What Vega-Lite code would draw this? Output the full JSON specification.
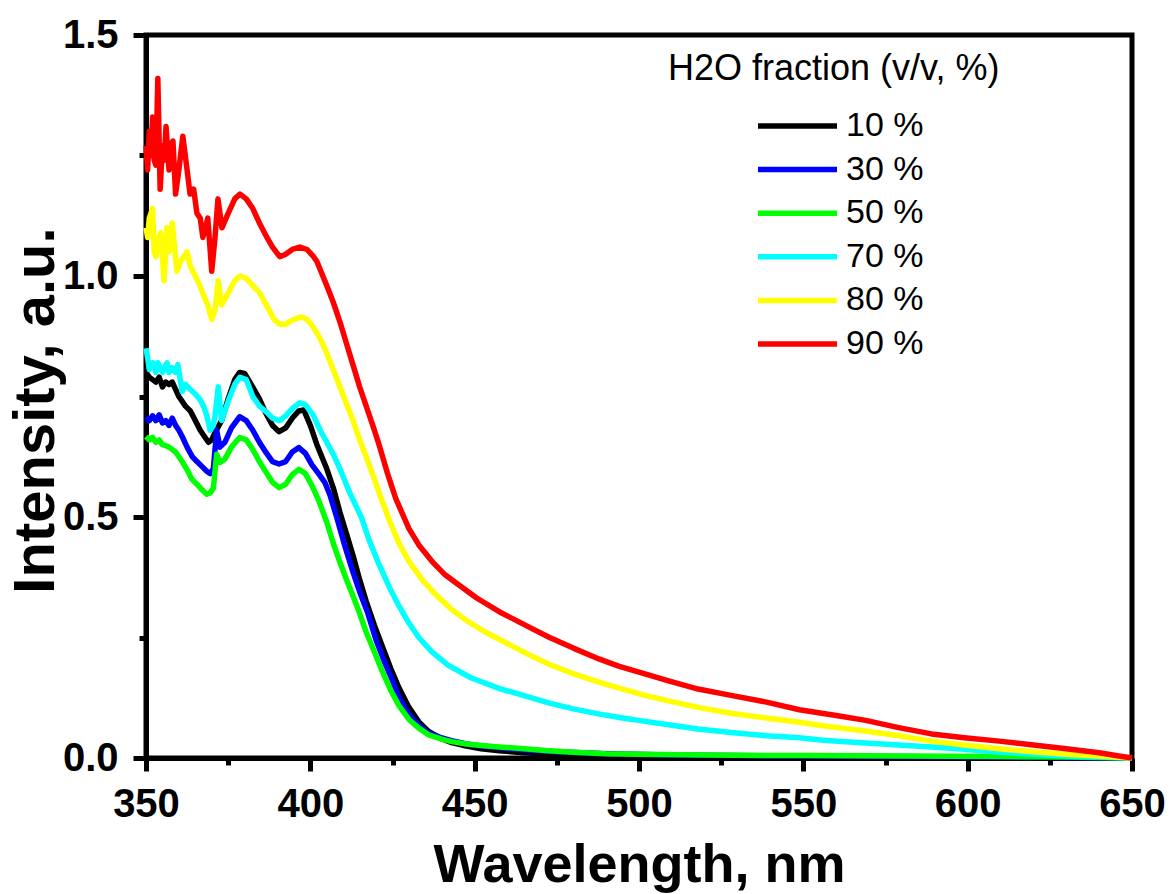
{
  "$schema": "https://vega.github.io/schema/vega-lite/v6.json",
  "width": 986,
  "height": 723,
  "autosize": {"type": "none"},
  "padding": {"left": 146, "top": 35, "right": 39, "bottom": 136},
  "background": "white",
  "config": {"view": {"stroke": "black", "strokeWidth": 5}, "font": "Liberation Sans"},
  "data": {"values": [
{"s":"10 %","w":350,"v":0.80},{"s":"10 %","w":351,"v":0.79},{"s":"10 %","w":352,"v":0.785},{"s":"10 %","w":353,"v":0.78},{"s":"10 %","w":354,"v":0.79},{"s":"10 %","w":355,"v":0.77},{"s":"10 %","w":356,"v":0.78},{"s":"10 %","w":357,"v":0.775},{"s":"10 %","w":358,"v":0.78},{"s":"10 %","w":359,"v":0.765},{"s":"10 %","w":360,"v":0.75},{"s":"10 %","w":362,"v":0.73},{"s":"10 %","w":363.5,"v":0.72},{"s":"10 %","w":365,"v":0.70},{"s":"10 %","w":366.5,"v":0.68},{"s":"10 %","w":368,"v":0.665},{"s":"10 %","w":369,"v":0.655},{"s":"10 %","w":370,"v":0.66},{"s":"10 %","w":371,"v":0.675},{"s":"10 %","w":373,"v":0.70},{"s":"10 %","w":375,"v":0.745},{"s":"10 %","w":377,"v":0.785},{"s":"10 %","w":378.5,"v":0.80},{"s":"10 %","w":380,"v":0.798},{"s":"10 %","w":382,"v":0.775},{"s":"10 %","w":384.5,"v":0.745},{"s":"10 %","w":386.5,"v":0.715},{"s":"10 %","w":388.5,"v":0.69},{"s":"10 %","w":390.5,"v":0.677},{"s":"10 %","w":392.5,"v":0.685},{"s":"10 %","w":394.5,"v":0.705},{"s":"10 %","w":396.5,"v":0.72},{"s":"10 %","w":398,"v":0.722},{"s":"10 %","w":400,"v":0.69},{"s":"10 %","w":402,"v":0.65},{"s":"10 %","w":405,"v":0.60},{"s":"10 %","w":407,"v":0.56},{"s":"10 %","w":409,"v":0.51},{"s":"10 %","w":411,"v":0.465},{"s":"10 %","w":413,"v":0.42},{"s":"10 %","w":415,"v":0.37},{"s":"10 %","w":417,"v":0.325},{"s":"10 %","w":419.5,"v":0.275},{"s":"10 %","w":422,"v":0.23},{"s":"10 %","w":424.5,"v":0.185},{"s":"10 %","w":427,"v":0.145},{"s":"10 %","w":430,"v":0.105},{"s":"10 %","w":433,"v":0.075},{"s":"10 %","w":436,"v":0.055},{"s":"10 %","w":439.5,"v":0.041},{"s":"10 %","w":443,"v":0.032},{"s":"10 %","w":447.5,"v":0.025},{"s":"10 %","w":452,"v":0.019},{"s":"10 %","w":457.5,"v":0.015},{"s":"10 %","w":465,"v":0.011},{"s":"10 %","w":475,"v":0.008},{"s":"10 %","w":490,"v":0.005},{"s":"10 %","w":510,"v":0.003},{"s":"10 %","w":550,"v":0.002},{"s":"10 %","w":600,"v":0.001},{"s":"10 %","w":650,"v":0.0},
{"s":"30 %","w":350,"v":0.707},{"s":"30 %","w":351,"v":0.70},{"s":"30 %","w":352,"v":0.71},{"s":"30 %","w":353,"v":0.70},{"s":"30 %","w":354,"v":0.712},{"s":"30 %","w":355,"v":0.695},{"s":"30 %","w":356,"v":0.70},{"s":"30 %","w":357,"v":0.69},{"s":"30 %","w":358,"v":0.705},{"s":"30 %","w":359,"v":0.69},{"s":"30 %","w":360,"v":0.68},{"s":"30 %","w":361,"v":0.667},{"s":"30 %","w":362.5,"v":0.645},{"s":"30 %","w":364,"v":0.626},{"s":"30 %","w":365.5,"v":0.615},{"s":"30 %","w":367,"v":0.605},{"s":"30 %","w":368.5,"v":0.595},{"s":"30 %","w":369.5,"v":0.59},{"s":"30 %","w":370.5,"v":0.60},{"s":"30 %","w":371.5,"v":0.68},{"s":"30 %","w":372.5,"v":0.645},{"s":"30 %","w":374,"v":0.655},{"s":"30 %","w":376,"v":0.685},{"s":"30 %","w":378.5,"v":0.708},{"s":"30 %","w":380.5,"v":0.70},{"s":"30 %","w":382.5,"v":0.68},{"s":"30 %","w":384.5,"v":0.655},{"s":"30 %","w":386.5,"v":0.634},{"s":"30 %","w":388.5,"v":0.615},{"s":"30 %","w":390.5,"v":0.61},{"s":"30 %","w":392.5,"v":0.615},{"s":"30 %","w":394.5,"v":0.635},{"s":"30 %","w":396.5,"v":0.644},{"s":"30 %","w":398.5,"v":0.632},{"s":"30 %","w":400.5,"v":0.608},{"s":"30 %","w":402.5,"v":0.59},{"s":"30 %","w":404.4,"v":0.572},{"s":"30 %","w":406,"v":0.545},{"s":"30 %","w":408,"v":0.50},{"s":"30 %","w":410.5,"v":0.44},{"s":"30 %","w":413,"v":0.385},{"s":"30 %","w":415,"v":0.345},{"s":"30 %","w":417.5,"v":0.30},{"s":"30 %","w":420,"v":0.245},{"s":"30 %","w":422.5,"v":0.20},{"s":"30 %","w":424.8,"v":0.164},{"s":"30 %","w":427,"v":0.125},{"s":"30 %","w":430,"v":0.09},{"s":"30 %","w":433.3,"v":0.066},{"s":"30 %","w":436,"v":0.052},{"s":"30 %","w":439.5,"v":0.043},{"s":"30 %","w":443,"v":0.036},{"s":"30 %","w":447.5,"v":0.029},{"s":"30 %","w":452,"v":0.025},{"s":"30 %","w":457.5,"v":0.021},{"s":"30 %","w":465,"v":0.017},{"s":"30 %","w":475,"v":0.013},{"s":"30 %","w":490,"v":0.009},{"s":"30 %","w":510,"v":0.006},{"s":"30 %","w":550,"v":0.004},{"s":"30 %","w":600,"v":0.002},{"s":"30 %","w":650,"v":0.0},
{"s":"50 %","w":350,"v":0.667},{"s":"50 %","w":351,"v":0.66},{"s":"50 %","w":352,"v":0.665},{"s":"50 %","w":353,"v":0.655},{"s":"50 %","w":354,"v":0.66},{"s":"50 %","w":355,"v":0.65},{"s":"50 %","w":356,"v":0.648},{"s":"50 %","w":357,"v":0.645},{"s":"50 %","w":358,"v":0.64},{"s":"50 %","w":359,"v":0.635},{"s":"50 %","w":360,"v":0.625},{"s":"50 %","w":361,"v":0.615},{"s":"50 %","w":362.5,"v":0.598},{"s":"50 %","w":364,"v":0.578},{"s":"50 %","w":365.5,"v":0.568},{"s":"50 %","w":367,"v":0.557},{"s":"50 %","w":368.5,"v":0.547},{"s":"50 %","w":369.5,"v":0.55},{"s":"50 %","w":370.5,"v":0.56},{"s":"50 %","w":371.5,"v":0.63},{"s":"50 %","w":372.5,"v":0.613},{"s":"50 %","w":374,"v":0.62},{"s":"50 %","w":376,"v":0.645},{"s":"50 %","w":378.5,"v":0.665},{"s":"50 %","w":380.5,"v":0.66},{"s":"50 %","w":382.5,"v":0.64},{"s":"50 %","w":384.5,"v":0.615},{"s":"50 %","w":386.5,"v":0.593},{"s":"50 %","w":388.5,"v":0.572},{"s":"50 %","w":390.5,"v":0.561},{"s":"50 %","w":392.5,"v":0.568},{"s":"50 %","w":394.5,"v":0.588},{"s":"50 %","w":396.5,"v":0.599},{"s":"50 %","w":398.5,"v":0.59},{"s":"50 %","w":400.5,"v":0.565},{"s":"50 %","w":402.5,"v":0.535},{"s":"50 %","w":405,"v":0.489},{"s":"50 %","w":407,"v":0.445},{"s":"50 %","w":409,"v":0.406},{"s":"50 %","w":411,"v":0.37},{"s":"50 %","w":413,"v":0.336},{"s":"50 %","w":415,"v":0.30},{"s":"50 %","w":417,"v":0.261},{"s":"50 %","w":419.5,"v":0.22},{"s":"50 %","w":422,"v":0.178},{"s":"50 %","w":424.5,"v":0.14},{"s":"50 %","w":427,"v":0.108},{"s":"50 %","w":430,"v":0.08},{"s":"50 %","w":433,"v":0.062},{"s":"50 %","w":436,"v":0.048},{"s":"50 %","w":440,"v":0.039},{"s":"50 %","w":443,"v":0.034},{"s":"50 %","w":447.5,"v":0.029},{"s":"50 %","w":452,"v":0.026},{"s":"50 %","w":457.5,"v":0.023},{"s":"50 %","w":465,"v":0.019},{"s":"50 %","w":472.5,"v":0.015},{"s":"50 %","w":480,"v":0.012},{"s":"50 %","w":490,"v":0.009},{"s":"50 %","w":500,"v":0.008},{"s":"50 %","w":520,"v":0.006},{"s":"50 %","w":550,"v":0.005},{"s":"50 %","w":580,"v":0.004},{"s":"50 %","w":610,"v":0.003},{"s":"50 %","w":630,"v":0.002},{"s":"50 %","w":650,"v":0.0},
{"s":"70 %","w":350,"v":0.85},{"s":"70 %","w":350.5,"v":0.83},{"s":"70 %","w":351,"v":0.806},{"s":"70 %","w":352,"v":0.82},{"s":"70 %","w":353,"v":0.80},{"s":"70 %","w":353.6,"v":0.82},{"s":"70 %","w":355,"v":0.80},{"s":"70 %","w":356.4,"v":0.82},{"s":"70 %","w":357,"v":0.80},{"s":"70 %","w":358,"v":0.81},{"s":"70 %","w":359,"v":0.80},{"s":"70 %","w":359.7,"v":0.816},{"s":"70 %","w":361,"v":0.76},{"s":"70 %","w":362,"v":0.775},{"s":"70 %","w":363.4,"v":0.765},{"s":"70 %","w":365,"v":0.755},{"s":"70 %","w":366.4,"v":0.744},{"s":"70 %","w":367.5,"v":0.73},{"s":"70 %","w":368.5,"v":0.71},{"s":"70 %","w":369.5,"v":0.68},{"s":"70 %","w":370.5,"v":0.69},{"s":"70 %","w":371,"v":0.71},{"s":"70 %","w":372,"v":0.77},{"s":"70 %","w":373,"v":0.70},{"s":"70 %","w":375,"v":0.74},{"s":"70 %","w":377,"v":0.775},{"s":"70 %","w":378.6,"v":0.79},{"s":"70 %","w":380.5,"v":0.785},{"s":"70 %","w":382.5,"v":0.75},{"s":"70 %","w":384.5,"v":0.73},{"s":"70 %","w":386.8,"v":0.717},{"s":"70 %","w":388.5,"v":0.705},{"s":"70 %","w":390.7,"v":0.70},{"s":"70 %","w":392.5,"v":0.71},{"s":"70 %","w":394.5,"v":0.725},{"s":"70 %","w":396.8,"v":0.737},{"s":"70 %","w":398.5,"v":0.733},{"s":"70 %","w":401,"v":0.71},{"s":"70 %","w":403,"v":0.68},{"s":"70 %","w":405,"v":0.655},{"s":"70 %","w":407,"v":0.63},{"s":"70 %","w":409,"v":0.60},{"s":"70 %","w":412,"v":0.55},{"s":"70 %","w":415.5,"v":0.50},{"s":"70 %","w":418,"v":0.45},{"s":"70 %","w":421,"v":0.40},{"s":"70 %","w":424,"v":0.355},{"s":"70 %","w":427,"v":0.315},{"s":"70 %","w":430,"v":0.28},{"s":"70 %","w":433,"v":0.25},{"s":"70 %","w":437,"v":0.22},{"s":"70 %","w":442,"v":0.192},{"s":"70 %","w":449,"v":0.166},{"s":"70 %","w":457.6,"v":0.144},{"s":"70 %","w":465.8,"v":0.128},{"s":"70 %","w":472.8,"v":0.114},{"s":"70 %","w":480,"v":0.102},{"s":"70 %","w":488,"v":0.091},{"s":"70 %","w":495,"v":0.083},{"s":"70 %","w":503,"v":0.075},{"s":"70 %","w":510,"v":0.068},{"s":"70 %","w":518,"v":0.06},{"s":"70 %","w":528,"v":0.053},{"s":"70 %","w":538.8,"v":0.046},{"s":"70 %","w":548.8,"v":0.042},{"s":"70 %","w":556,"v":0.037},{"s":"70 %","w":564,"v":0.033},{"s":"70 %","w":569,"v":0.031},{"s":"70 %","w":579,"v":0.027},{"s":"70 %","w":589,"v":0.023},{"s":"70 %","w":599,"v":0.018},{"s":"70 %","w":609.6,"v":0.012},{"s":"70 %","w":620,"v":0.008},{"s":"70 %","w":630,"v":0.004},{"s":"70 %","w":640,"v":0.002},{"s":"70 %","w":650,"v":0.0},
{"s":"80 %","w":350,"v":1.10},{"s":"80 %","w":350.5,"v":1.08},{"s":"80 %","w":351,"v":1.12},{"s":"80 %","w":352,"v":1.14},{"s":"80 %","w":352.5,"v":1.05},{"s":"80 %","w":353,"v":1.04},{"s":"80 %","w":354,"v":1.08},{"s":"80 %","w":354.5,"v":1.09},{"s":"80 %","w":355.5,"v":0.99},{"s":"80 %","w":356.4,"v":1.10},{"s":"80 %","w":357,"v":1.05},{"s":"80 %","w":357.5,"v":1.07},{"s":"80 %","w":358,"v":1.11},{"s":"80 %","w":359.4,"v":1.01},{"s":"80 %","w":360.5,"v":1.03},{"s":"80 %","w":362.5,"v":1.05},{"s":"80 %","w":363.5,"v":1.02},{"s":"80 %","w":365,"v":1.00},{"s":"80 %","w":366.4,"v":0.98},{"s":"80 %","w":367.5,"v":0.96},{"s":"80 %","w":368.8,"v":0.94},{"s":"80 %","w":370,"v":0.91},{"s":"80 %","w":371,"v":0.93},{"s":"80 %","w":372,"v":0.99},{"s":"80 %","w":373,"v":0.94},{"s":"80 %","w":375,"v":0.965},{"s":"80 %","w":377,"v":0.99},{"s":"80 %","w":378.6,"v":1.00},{"s":"80 %","w":380.5,"v":0.995},{"s":"80 %","w":382.5,"v":0.98},{"s":"80 %","w":384.6,"v":0.965},{"s":"80 %","w":387,"v":0.935},{"s":"80 %","w":389,"v":0.91},{"s":"80 %","w":390.7,"v":0.90},{"s":"80 %","w":392.5,"v":0.90},{"s":"80 %","w":395,"v":0.91},{"s":"80 %","w":397.4,"v":0.915},{"s":"80 %","w":399,"v":0.91},{"s":"80 %","w":400.8,"v":0.895},{"s":"80 %","w":403,"v":0.87},{"s":"80 %","w":405,"v":0.84},{"s":"80 %","w":407,"v":0.805},{"s":"80 %","w":409,"v":0.77},{"s":"80 %","w":411,"v":0.735},{"s":"80 %","w":413,"v":0.70},{"s":"80 %","w":415,"v":0.66},{"s":"80 %","w":417,"v":0.625},{"s":"80 %","w":419.5,"v":0.578},{"s":"80 %","w":422,"v":0.53},{"s":"80 %","w":424.5,"v":0.485},{"s":"80 %","w":427,"v":0.445},{"s":"80 %","w":430,"v":0.408},{"s":"80 %","w":434,"v":0.37},{"s":"80 %","w":438,"v":0.34},{"s":"80 %","w":443,"v":0.308},{"s":"80 %","w":447.6,"v":0.285},{"s":"80 %","w":453,"v":0.262},{"s":"80 %","w":461.5,"v":0.232},{"s":"80 %","w":466,"v":0.216},{"s":"80 %","w":472.8,"v":0.194},{"s":"80 %","w":480,"v":0.175},{"s":"80 %","w":488,"v":0.157},{"s":"80 %","w":495,"v":0.143},{"s":"80 %","w":503,"v":0.128},{"s":"80 %","w":510,"v":0.117},{"s":"80 %","w":518,"v":0.105},{"s":"80 %","w":528,"v":0.093},{"s":"80 %","w":538.8,"v":0.083},{"s":"80 %","w":548.8,"v":0.074},{"s":"80 %","w":556,"v":0.067},{"s":"80 %","w":564,"v":0.06},{"s":"80 %","w":569,"v":0.056},{"s":"80 %","w":579,"v":0.046},{"s":"80 %","w":589,"v":0.035},{"s":"80 %","w":599,"v":0.027},{"s":"80 %","w":609.6,"v":0.019},{"s":"80 %","w":620,"v":0.013},{"s":"80 %","w":630,"v":0.008},{"s":"80 %","w":640,"v":0.004},{"s":"80 %","w":650,"v":0.0},
{"s":"90 %","w":350,"v":1.27},{"s":"90 %","w":350.5,"v":1.22},{"s":"90 %","w":351,"v":1.30},{"s":"90 %","w":351.5,"v":1.25},{"s":"90 %","w":352,"v":1.33},{"s":"90 %","w":352.5,"v":1.24},{"s":"90 %","w":353,"v":1.23},{"s":"90 %","w":353.6,"v":1.41},{"s":"90 %","w":354.3,"v":1.18},{"s":"90 %","w":355,"v":1.27},{"s":"90 %","w":355.5,"v":1.24},{"s":"90 %","w":356.1,"v":1.31},{"s":"90 %","w":357,"v":1.22},{"s":"90 %","w":357.5,"v":1.27},{"s":"90 %","w":358.2,"v":1.28},{"s":"90 %","w":359,"v":1.17},{"s":"90 %","w":360,"v":1.22},{"s":"90 %","w":361.2,"v":1.29},{"s":"90 %","w":362.5,"v":1.22},{"s":"90 %","w":363.4,"v":1.17},{"s":"90 %","w":364.5,"v":1.18},{"s":"90 %","w":365.5,"v":1.13},{"s":"90 %","w":366.5,"v":1.12},{"s":"90 %","w":367.3,"v":1.08},{"s":"90 %","w":368.8,"v":1.12},{"s":"90 %","w":370,"v":1.01},{"s":"90 %","w":371,"v":1.08},{"s":"90 %","w":371.9,"v":1.16},{"s":"90 %","w":373.1,"v":1.10},{"s":"90 %","w":375,"v":1.13},{"s":"90 %","w":377,"v":1.16},{"s":"90 %","w":378.6,"v":1.17},{"s":"90 %","w":380.5,"v":1.16},{"s":"90 %","w":382.5,"v":1.14},{"s":"90 %","w":384.5,"v":1.11},{"s":"90 %","w":386.8,"v":1.08},{"s":"90 %","w":388.5,"v":1.06},{"s":"90 %","w":390.7,"v":1.04},{"s":"90 %","w":392.5,"v":1.045},{"s":"90 %","w":394.5,"v":1.055},{"s":"90 %","w":396.8,"v":1.06},{"s":"90 %","w":399,"v":1.055},{"s":"90 %","w":401,"v":1.04},{"s":"90 %","w":402,"v":1.03},{"s":"90 %","w":405,"v":0.98},{"s":"90 %","w":407,"v":0.945},{"s":"90 %","w":409,"v":0.905},{"s":"90 %","w":411,"v":0.86},{"s":"90 %","w":413,"v":0.815},{"s":"90 %","w":415,"v":0.77},{"s":"90 %","w":417,"v":0.73},{"s":"90 %","w":419,"v":0.69},{"s":"90 %","w":421,"v":0.648},{"s":"90 %","w":423.5,"v":0.59},{"s":"90 %","w":426,"v":0.538},{"s":"90 %","w":430,"v":0.476},{"s":"90 %","w":433,"v":0.442},{"s":"90 %","w":437,"v":0.408},{"s":"90 %","w":441,"v":0.38},{"s":"90 %","w":445,"v":0.36},{"s":"90 %","w":450.6,"v":0.332},{"s":"90 %","w":457.6,"v":0.303},{"s":"90 %","w":467.6,"v":0.268},{"s":"90 %","w":472.8,"v":0.25},{"s":"90 %","w":480,"v":0.228},{"s":"90 %","w":488,"v":0.205},{"s":"90 %","w":494,"v":0.19},{"s":"90 %","w":500,"v":0.178},{"s":"90 %","w":509,"v":0.16},{"s":"90 %","w":518,"v":0.143},{"s":"90 %","w":528,"v":0.13},{"s":"90 %","w":538.8,"v":0.116},{"s":"90 %","w":548.8,"v":0.10},{"s":"90 %","w":560,"v":0.088},{"s":"90 %","w":569,"v":0.078},{"s":"90 %","w":579,"v":0.063},{"s":"90 %","w":589,"v":0.05},{"s":"90 %","w":599,"v":0.042},{"s":"90 %","w":609.6,"v":0.035},{"s":"90 %","w":620,"v":0.027},{"s":"90 %","w":630,"v":0.019},{"s":"90 %","w":640,"v":0.011},{"s":"90 %","w":646,"v":0.004},{"s":"90 %","w":650,"v":0.0}
  ]},
  "mark": {"type": "line", "strokeWidth": 5.5, "strokeJoin": "round"},
  "encoding": {
    "x": {
      "field": "w", "type": "quantitative",
      "scale": {"domain": [350, 650], "nice": false, "zero": false},
      "axis": {
        "title": "Wavelength, nm",
        "values": [350, 375, 400, 425, 450, 475, 500, 525, 550, 575, 600, 625, 650],
        "format": "d",
        "labelExpr": "datum.value % 50 === 0 ? datum.label : ''",
        "grid": false,
        "domainColor": "black", "domainWidth": 5,
        "tickColor": "black", "tickWidth": 5,
        "tickSize": {"condition": {"test": "datum.value % 50 === 0", "value": 13}, "value": 7},
        "labelFont": "Liberation Sans", "labelFontSize": 40, "labelFontWeight": "bold", "labelColor": "black",
        "labelPadding": 13, "labelFlush": false, "labelOverlap": false,
        "titleFont": "Liberation Sans", "titleFontSize": 54, "titleFontWeight": "bold", "titleColor": "black",
        "titlePadding": 14
      }
    },
    "y": {
      "field": "v", "type": "quantitative",
      "scale": {"domain": [0, 1.5], "nice": false},
      "axis": {
        "title": "Intensity, a.u.",
        "values": [0, 0.25, 0.5, 0.75, 1, 1.25, 1.5],
        "format": ".1f",
        "labelExpr": "round(datum.value * 4) % 2 === 0 ? datum.label : ''",
        "grid": false,
        "domainColor": "black", "domainWidth": 5,
        "tickColor": "black", "tickWidth": 5,
        "tickSize": {"condition": {"test": "round(datum.value * 4) % 2 === 0", "value": 13}, "value": 7},
        "labelFont": "Liberation Sans", "labelFontSize": 40, "labelFontWeight": "bold", "labelColor": "black",
        "labelPadding": 15, "labelFlush": false, "labelOverlap": false,
        "titleFont": "Liberation Sans", "titleFontSize": 58, "titleFontWeight": "bold", "titleColor": "black",
        "titlePadding": -3, "titleY": 375
      }
    },
    "color": {
      "field": "s", "type": "nominal",
      "scale": {
        "domain": ["10 %", "30 %", "50 %", "70 %", "80 %", "90 %"],
        "range": ["#000000", "#0000ff", "#00ff00", "#00ffff", "#ffff00", "#ff0000"]
      },
      "legend": {
        "orient": "none", "legendX": 522, "legendY": 17,
        "title": "H2O fraction (v/v, %)",
        "titleFont": "Liberation Sans", "titleFontSize": 36, "titleFontWeight": "normal", "titleColor": "black",
        "titlePadding": 23, "titleLimit": 600,
        "labelFont": "Liberation Sans", "labelFontSize": 34, "labelColor": "black",
        "symbolType": "stroke", "symbolSize": 6241, "symbolStrokeWidth": 5.5,
        "symbolOffset": 87, "labelOffset": 6,
        "clipHeight": 30, "rowPadding": 9.6, "padding": 0
      }
    }
  }
}
